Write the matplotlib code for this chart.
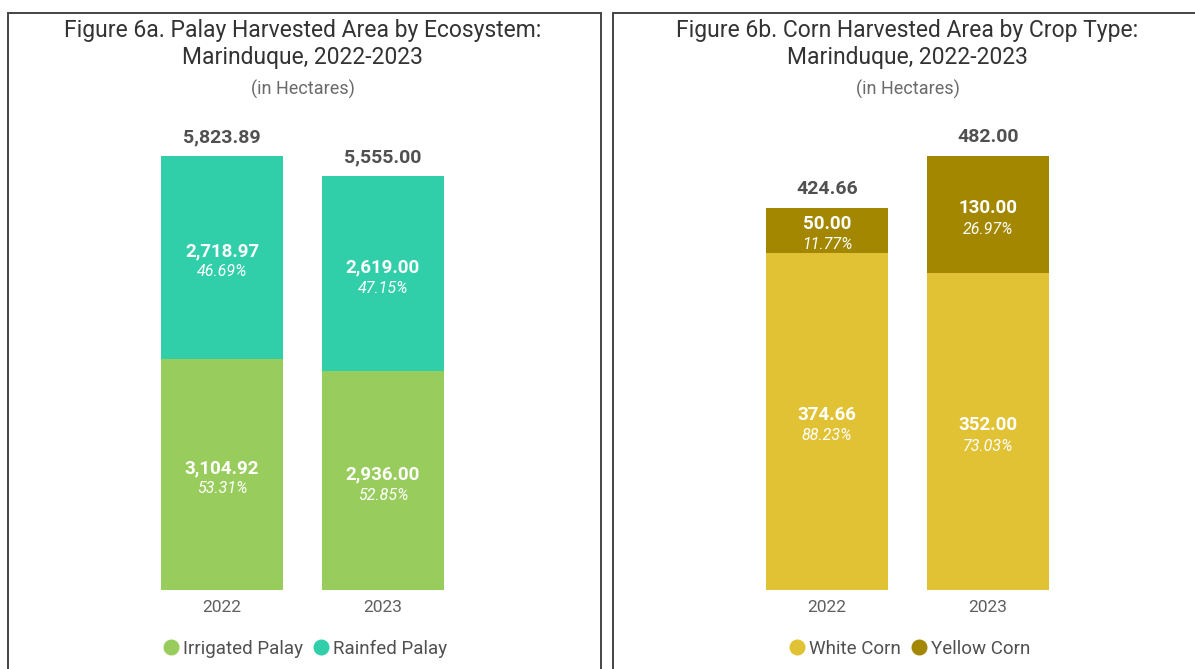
"""Palay and corn harvested area, Marinduque 2022-2023: two stacked bar panels."""

import matplotlib
matplotlib.use("Agg")
import matplotlib.pyplot as plt
from matplotlib.lines import Line2D
from matplotlib.patches import Rectangle

YEARS = ["2022", "2023"]

PALAY_IRRIGATED = [3104.92, 2936.00]
PALAY_RAINFED = [2718.97, 2619.00]
PALAY_TOTAL = [5823.89, 5555.00]
PALAY_IRR_PCT = ["53.31%", "52.85%"]
PALAY_RAIN_PCT = ["46.69%", "47.15%"]

CORN_WHITE = [374.66, 352.00]
CORN_YELLOW = [50.00, 130.00]
CORN_TOTAL = [424.66, 482.00]
CORN_WHITE_PCT = ["88.23%", "73.03%"]
CORN_YELLOW_PCT = ["11.77%", "26.97%"]

C_IRR = "#98CD5D"
C_RAIN = "#30CFAA"
C_WHITE = "#E1C234"
C_YELLOW = "#A38700"
C_TEXT = "#505050"
C_TICK = "#5F5F5F"

W, H = 1195, 669
plt.rcParams["font.family"] = ["Roboto", "DejaVu Sans"]


def fx(px):
    return px / W


def fy(py):
    return 1 - py / H


def seg_label(ax, x, bottom, height, value, pct):
    yc = bottom + height / 2
    ax.annotate(f"{value:,.2f}", (x, yc), xytext=(0, 4.5), textcoords="offset points",
                ha="center", va="center", color="white", fontsize=13.5, fontweight="bold")
    ax.annotate(pct, (x, yc), xytext=(0, -10.5), textcoords="offset points",
                ha="center", va="center", color="white", fontsize=11.5, style="italic")


def draw_panel(fig, left_px, lower, upper, lower_pct, upper_pct, totals, c_low, c_up,
               title, names):
    # axes spans from the tallest bar top (y=156) to the baseline (y=590)
    ax = fig.add_axes([fx(left_px), fy(590), fx(322), (590 - 156) / H])
    x = range(len(YEARS))
    width = 122 / 161
    ax.bar(x, lower, width=width, color=c_low)
    ax.bar(x, upper, width=width, bottom=lower, color=c_up)
    ax.set_xlim(-0.5, 1.5)
    ax.set_ylim(0, max(totals))
    for i in x:
        seg_label(ax, i, 0, lower[i], lower[i], lower_pct[i])
        seg_label(ax, i, lower[i], upper[i], upper[i], upper_pct[i])
        ax.annotate(f"{totals[i]:,.2f}", (i, totals[i]), xytext=(0, 13.5), textcoords="offset points",
                    ha="center", va="center", color=C_TEXT, fontsize=14, fontweight="bold",
                    annotation_clip=False)
    ax.set_xticks(list(x))
    ax.set_xticklabels(YEARS, fontsize=12.5, color=C_TICK)
    ax.tick_params(axis="x", length=0, pad=7)
    ax.set_yticks([])
    for s in ax.spines.values():
        s.set_visible(False)

    cx = fx(left_px + 161)
    fig.text(cx, fy(44), title, ha="center", va="center", fontsize=16.5,
             color="#333333", linespacing=1.25)
    fig.text(cx, fy(89), "(in Hectares)", ha="center", va="center", fontsize=13, color="#6A6A6A")

    handles = [
        Line2D([0], [0], marker="o", lw=0, markersize=10.5, color=c_low, label=names[0]),
        Line2D([0], [0], marker="o", lw=0, markersize=10.5, color=c_up, label=names[1]),
    ]
    fig.legend(handles=handles, loc="center", bbox_to_anchor=(cx + fx(2), fy(649)), ncol=2,
               frameon=False, handletextpad=0.2, columnspacing=0.5, handlelength=0.9,
               prop={"size": 13.5}, labelcolor=C_TEXT)


def generate():
    fig = plt.figure(figsize=(W / 100, H / 100), dpi=100)

    # panel frames
    fig.add_artist(Rectangle((fx(8), fy(700)), fx(593), (700 - 13) / H, fill=False,
                             ec="#444444", lw=1.4, transform=fig.transFigure))
    fig.add_artist(Rectangle((fx(613), fy(700)), fx(600), (700 - 13) / H, fill=False,
                             ec="#444444", lw=1.4, transform=fig.transFigure))

    draw_panel(fig, 141.5, PALAY_IRRIGATED, PALAY_RAINFED, PALAY_IRR_PCT, PALAY_RAIN_PCT,
               PALAY_TOTAL, C_IRR, C_RAIN,
               "Figure 6a. Palay Harvested Area by Ecosystem:\nMarinduque, 2022-2023",
               ["Irrigated Palay", "Rainfed Palay"])
    draw_panel(fig, 746.5, CORN_WHITE, CORN_YELLOW, CORN_WHITE_PCT, CORN_YELLOW_PCT,
               CORN_TOTAL, C_WHITE, C_YELLOW,
               "Figure 6b. Corn Harvested Area by Crop Type:\nMarinduque, 2022-2023",
               ["White Corn", "Yellow Corn"])

    fig.savefig("out.png", dpi=100)


if __name__ == "__main__":
    generate()
